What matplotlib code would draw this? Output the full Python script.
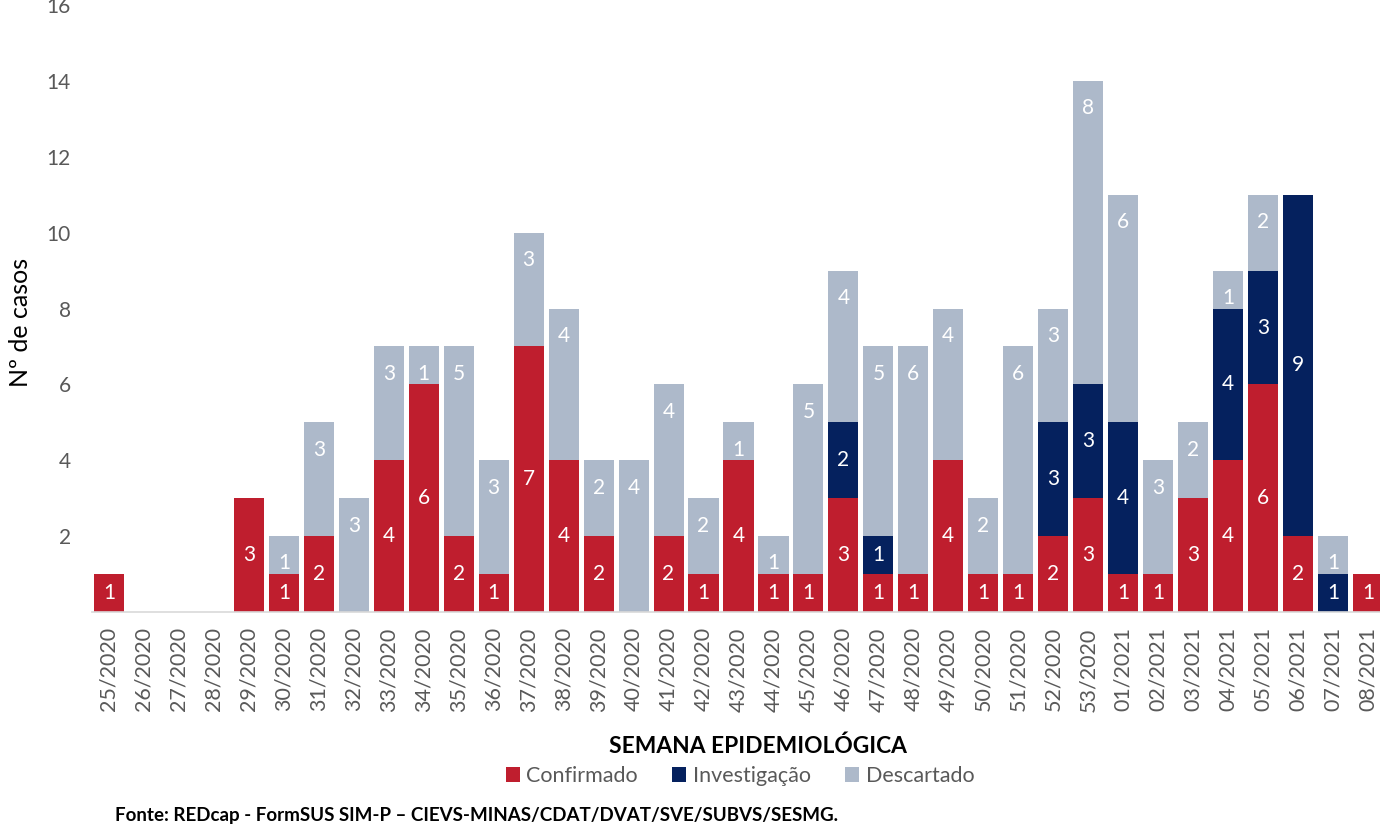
import matplotlib
matplotlib.use("Agg")
import matplotlib.pyplot as plt
from matplotlib.patches import Patch
import numpy as np

weeks = ["25/2020", "26/2020", "27/2020", "28/2020", "29/2020", "30/2020", "31/2020",
         "32/2020", "33/2020", "34/2020", "35/2020", "36/2020", "37/2020", "38/2020",
         "39/2020", "40/2020", "41/2020", "42/2020", "43/2020", "44/2020", "45/2020",
         "46/2020", "47/2020", "48/2020", "49/2020", "50/2020", "51/2020", "52/2020",
         "53/2020", "01/2021", "02/2021", "03/2021", "04/2021", "05/2021", "06/2021",
         "07/2021", "08/2021"]
confirmado = [1, 0, 0, 0, 3, 1, 2, 0, 4, 6, 2, 1, 7, 4, 2, 0, 2, 1, 4, 1, 1,
              3, 1, 1, 4, 1, 1, 2, 3, 1, 1, 3, 4, 6, 2, 0, 1]
investigacao = [0, 0, 0, 0, 0, 0, 0, 0, 0, 0, 0, 0, 0, 0, 0, 0, 0, 0, 0, 0, 0,
                2, 1, 0, 0, 0, 0, 3, 3, 4, 0, 0, 4, 3, 9, 1, 0]
descartado = [0, 0, 0, 0, 0, 1, 3, 3, 3, 1, 5, 3, 3, 4, 2, 4, 4, 2, 1, 1, 5,
              4, 5, 6, 4, 2, 6, 3, 8, 6, 3, 2, 1, 2, 0, 1, 0]
yticks = [2, 4, 6, 8, 10, 12, 14, 16]

RED = "#BF1E2E"
NAVY = "#05215E"
GRAY = "#ADB9CA"
TXT = "#595959"
FONT = "Lato"

plt.rcParams['font.family'] = [FONT, 'DejaVu Sans']

fig = plt.figure(figsize=(13.8, 8.33), dpi=100)
W, H = 1380, 833
x_left, x_right = 91.5, 1385.5
y_bot, y_top = 612, 5.1
ax = fig.add_axes([x_left / W, 1 - y_bot / H, (x_right - x_left) / W, (y_bot - y_top) / H])

x = np.arange(len(weeks))
c = np.array(confirmado)
i = np.array(investigacao)
d = np.array(descartado)
bw = 0.86
ax.bar(x, c, bw, color=RED, edgecolor="none", zorder=2)
ax.bar(x, i, bw, bottom=c, color=NAVY, edgecolor="none", zorder=2)
ax.bar(x, d, bw, bottom=c + i, color=GRAY, edgecolor="none", zorder=2)

lab_kw = dict(color="white", fontsize=15, ha="center", va="center", zorder=3)
for k in range(len(weeks)):
    if c[k] > 0:
        ax.text(x[k], c[k] / 2, str(c[k]), **lab_kw)
    if i[k] > 0:
        ax.text(x[k], c[k] + i[k] / 2, str(i[k]), **lab_kw)
    if d[k] > 0:
        top = c[k] + i[k] + d[k]
        ax.text(x[k], top - 0.72, str(d[k]), **lab_kw)

ax.set_xlim(-0.5, len(weeks) - 0.5)
ax.set_ylim(0, 16)
ax.set_yticks(yticks)
ax.set_yticklabels([str(v) for v in yticks])
ax.set_xticks(x)
ax.set_xticklabels(weeks, rotation=90)
ax.tick_params(axis="y", length=0, pad=15, labelsize=15, labelcolor=TXT)
ax.tick_params(axis="x", length=0, pad=11, labelsize=15.5, labelcolor=TXT)
for s in ["top", "right", "left"]:
    ax.spines[s].set_visible(False)
ax.spines["bottom"].set_color("#D9D9D9")
ax.spines["bottom"].set_linewidth(1.2)

ax.set_ylabel("Nº de casos", fontsize=18, color="black")
ax.yaxis.set_label_coords((32 - x_left) / (x_right - x_left), (y_bot - 322) / (y_bot - y_top))

fig.text(758 / W, 1 - 746 / H, "SEMANA EPIDEMIOLÓGICA", fontsize=16.4, fontweight="bold",
         color="black", ha="center", va="center")

handles = [Patch(facecolor=RED, label="Confirmado"),
           Patch(facecolor=NAVY, label="Investigação"),
           Patch(facecolor=GRAY, label="Descartado")]
leg = fig.legend(handles=handles, loc="center", bbox_to_anchor=(740 / W, 1 - 776 / H), ncol=3,
                 frameon=False, fontsize=15.5, handlelength=0.65, handleheight=0.65,
                 handletextpad=0.3, columnspacing=1.6, labelcolor=TXT)

fig.text(115 / W, 1 - 815 / H,
         "Fonte: REDcap - FormSUS SIM-P – CIEVS-MINAS/CDAT/DVAT/SVE/SUBVS/SESMG.",
         fontsize=13.5, fontweight="bold", color="black", ha="left", va="center")

fig.savefig("out.png", dpi=100)
